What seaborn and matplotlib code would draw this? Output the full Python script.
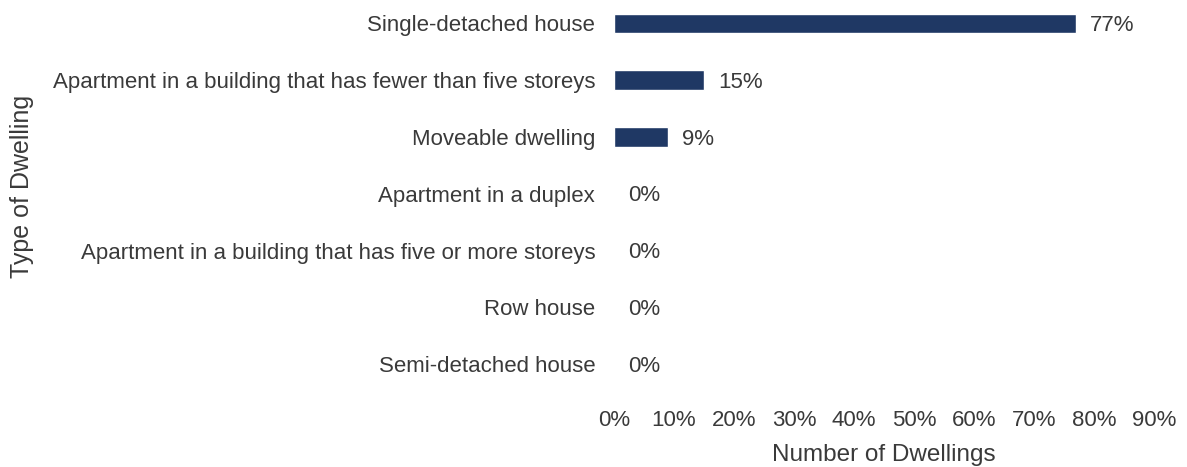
import matplotlib
matplotlib.use("Agg")
import matplotlib.pyplot as plt
import seaborn as sns
import pandas as pd

categories = [
    "Single-detached house",
    "Apartment in a building that has fewer than five storeys",
    "Moveable dwelling",
    "Apartment in a duplex",
    "Apartment in a building that has five or more storeys",
    "Row house",
    "Semi-detached house",
]
shares = [77, 15, 9, 0, 0, 0, 0]
x_ticks = [0, 10, 20, 30, 40, 50, 60, 70, 80, 90]

sns.set_theme(style="white")
plt.rcParams["font.family"] = ["Liberation Sans", "DejaVu Sans"]

text_color = "#3a3a3a"
bar_color = "#1f3864"

df = pd.DataFrame({"Type of Dwelling": categories, "Share": shares})

fig = plt.figure(figsize=(11.87, 4.67), dpi=100)
W, H = 1187, 467
left_px, right_px = 614, 1154
top_px, bottom_px = 0, 395
ax = fig.add_axes([left_px / W, 1 - bottom_px / H,
                   (right_px - left_px) / W, (bottom_px - top_px) / H])

sns.barplot(data=df, y="Type of Dwelling", x="Share", color=bar_color,
            width=0.35, saturation=1, ax=ax, orient="h")

ax.set_xlim(0, 90)
row_px = 56.75
first_row_px = 23.5
ax.set_ylim(6 + (bottom_px - first_row_px - 6 * row_px) / row_px,
            -(first_row_px - top_px) / row_px)
ax.set_xticks(x_ticks)
ax.set_xticklabels([f"{t}%" for t in x_ticks])
for s in ax.spines.values():
    s.set_visible(False)
ax.tick_params(axis="x", length=0, pad=11, labelsize=16, labelcolor=text_color)
ax.tick_params(axis="y", length=0, pad=13.5, labelsize=16, labelcolor=text_color)

for i, v in enumerate(shares):
    ax.annotate(f"{v}%", xy=(v, i), xytext=(10, -1.5), textcoords="offset points",
                va="center", ha="left", fontsize=16, color=text_color)

ax.set_xlabel("Number of Dwellings", fontsize=17.5, color=text_color, labelpad=9)
ax.set_ylabel("Type of Dwelling", fontsize=18, color=text_color)
ax.yaxis.set_label_coords(-(left_px - 34) / (right_px - left_px),
                          1 - 186 / (bottom_px - top_px))

fig.savefig("out.png", dpi=100, facecolor="white")
